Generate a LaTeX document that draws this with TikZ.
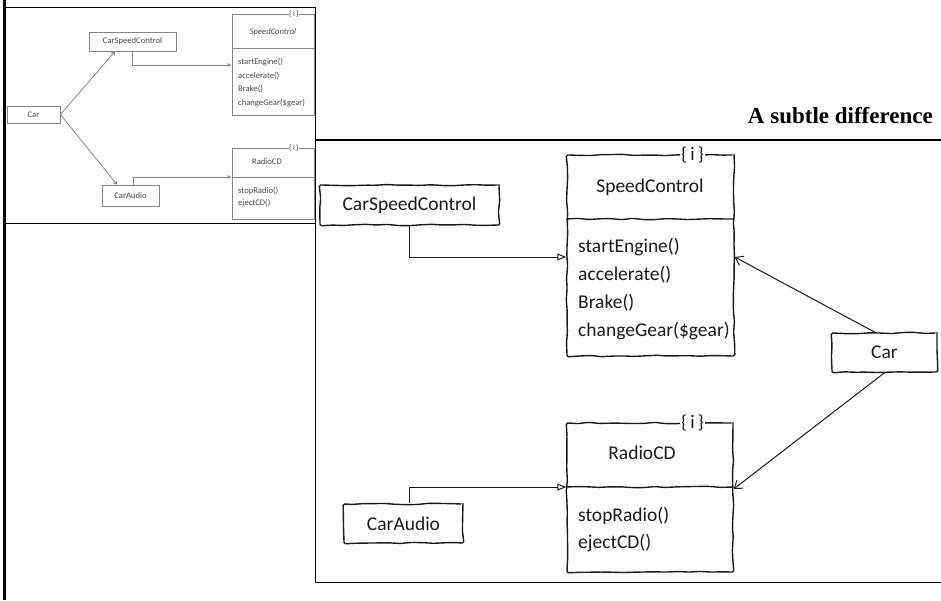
\documentclass[tikz,border=0pt]{standalone}
\usepackage{fontspec}
\setmainfont{Carlito}
\newfontfamily\titlefont{Liberation Serif}
\usetikzlibrary{arrows.meta,decorations.pathmorphing}

\definecolor{ink}{HTML}{1A1A1A}
\definecolor{faint}{HTML}{858585}
\definecolor{fainttext}{HTML}{474747}

\newcommand\bigtxt{\fontsize{19.5}{22}\selectfont}
\newcommand\minitxt{\fontsize{8.6}{10}\selectfont}

\begin{document}
\begin{tikzpicture}[x=1pt, y=-1pt,
  sketch/.style={decorate, decoration={random steps, segment length=11pt, amplitude=0.7pt}, rounded corners=1.5pt},
  frame/.style={draw=black, line width=1.2pt},
  simplebox/.style={draw=ink, line width=1.4pt, sketch, inner sep=0pt, font=\bigtxt, text=ink},
  divline/.style={draw=ink, line width=1.4pt, sketch},
  tagmark/.style={fill=white, inner sep=1pt, font=\fontsize{19}{19}\selectfont, text=ink},
  headtext/.style={inner sep=0pt, font=\bigtxt, text=ink},
  method/.style={anchor=base west, inner sep=0pt, font=\bigtxt, text=ink},
  realize/.style={draw=ink, line width=1pt, -{Triangle[open, length=9pt, width=7pt]}},
  assoc/.style={draw=ink, line width=1pt, -{Straight Barb[length=7pt, width=10pt]}},
  minibox/.style={draw=faint, line width=0.9pt, inner sep=0pt, font=\minitxt, text=fainttext},
  minidiv/.style={draw=faint, line width=0.9pt},
  minitag/.style={fill=white, inner sep=0.5pt, font=\fontsize{8}{8}\selectfont, text=fainttext},
  minihead/.style={inner sep=0pt, font=\minitxt, text=fainttext},
  minimethod/.style={anchor=base west, inner sep=0pt, font=\minitxt, text=fainttext},
  minirealize/.style={draw=faint, line width=0.8pt, -{Triangle[open, length=4pt, width=3.5pt]}},
  miniassoc/.style={draw=faint, line width=0.8pt, -{Straight Barb[length=3pt, width=4pt]}}
]
\pgfmathsetseed{7}
\useasboundingbox (0,0) rectangle (941,600);
\fill[white] (0,0) rectangle (941,600);

% page frames
\draw[line width=3.2pt, black] (4.6,0) -- (4.6,600);
\draw[frame] (4.6,7.3) -- (315.5,7.3) -- (315.5,140);
\draw[frame] (4.6,223.5) -- (315.5,223.5);
\draw[frame] (941,140) -- (315.5,140) -- (315.5,582.5) -- (941,582.5);

% heading
\node (title) [anchor=base east, inner sep=0pt, font=\titlefont\bfseries\fontsize{23}{23}\selectfont] at (933,123) {A subtle difference};

% ---------- small overview diagram ----------
\node (sCar) [minibox, minimum width=53pt, minimum height=17pt] at (33.5,114.5) {Car};
\node (sCSC) [minibox, minimum width=87pt, minimum height=19pt] at (132.5,41.5) {CarSpeedControl};
\node (sCA)  [minibox, minimum width=57pt, minimum height=21pt] at (130.5,195.5) {CarAudio};

\node (sSC) [minibox, minimum width=82pt, minimum height=101pt] at (273,64.5) {};
\draw[minidiv] (sSC.west |- 0,48) -- (sSC.east |- 0,48);
\node (sSCtag) [minitag] at (294,14) {\{\,i\,\}};
\node (sSCname) [minihead] at (273,32) {\itshape SpeedControl};
\node (sSCm1) [minimethod] at (238,64) {startEngine()};
\node (sSCm2) [minimethod] at (238,78) {accelerate()};
\node (sSCm3) [minimethod] at (238,91) {Brake()};
\node (sSCm4) [minimethod] at (238,105) {changeGear(\$gear)};

\node (sRC) [minibox, minimum width=82pt, minimum height=71pt] at (273,183.5) {};
\draw[minidiv] (sRC.west |- 0,177) -- (sRC.east |- 0,177);
\node (sRCtag) [minitag] at (294,148) {\{\,i\,\}};
\node (sRCname) [minihead] at (267,162) {RadioCD};
\node (sRCm1) [minimethod] at (238,193) {stopRadio()};
\node (sRCm2) [minimethod] at (238,205) {ejectCD()};

\draw[miniassoc] (sCar.east) -- ([xshift=-17.5pt]sCSC.south);
\draw[miniassoc] (sCar.east) -- ([xshift=-13.5pt]sCA.north);
\draw[minirealize] (sCSC.south) |- (sSC.west |- 0,65);
\draw[minirealize] ([xshift=2.5pt]sCA.north) |- (sRC.west |- 0,177);

% ---------- main diagram ----------
\node (csc) [simplebox, minimum width=179pt, minimum height=40pt] at (409.5,205) {CarSpeedControl};
\node (car) [simplebox, minimum width=105pt, minimum height=39pt] at (884.5,352.5) {Car};
\node (ca)  [simplebox, minimum width=119pt, minimum height=39pt] at (403.5,523.5) {CarAudio};

% SpeedControl interface
\node (sc) [simplebox, minimum width=167pt, minimum height=201pt] at (650.5,255.5) {};
\draw[divline] (sc.west |- 0,219) -- (sc.east |- 0,219);
\node (sctag) [tagmark] at (692.5,155) {\{\,i\,\}};
\node (scname) [headtext] at (650,187) {SpeedControl};
\node (scm1) [method] at (578,252) {startEngine()};
\node (scm2) [method] at (578,280) {accelerate()};
\node (scm3) [method] at (578,308) {Brake()};
\node (scm4) [method] at (578,336) {changeGear(\$gear)};

% RadioCD interface
\node (rc) [simplebox, minimum width=166pt, minimum height=149pt] at (650,497.5) {};
\draw[divline] (rc.west |- 0,487) -- (rc.east |- 0,487);
\node (rctag) [tagmark] at (692.5,423) {\{\,i\,\}};
\node (rcname) [headtext] at (642,453) {RadioCD};
\node (rcm1) [method] at (578,521) {stopRadio()};
\node (rcm2) [method] at (578,548) {ejectCD()};

% connectors
\draw[realize] (csc.south) |- (sc.west |- 0,257);
\draw[realize] ([xshift=5.5pt]ca.north) |- (rc.west |- 0,487);
\draw[assoc] ([xshift=-9.5pt]car.north) -- (sc.east |- 0,257);
\draw[assoc] (car.south) -- (rc.east |- 0,489);
\end{tikzpicture}
\end{document}
